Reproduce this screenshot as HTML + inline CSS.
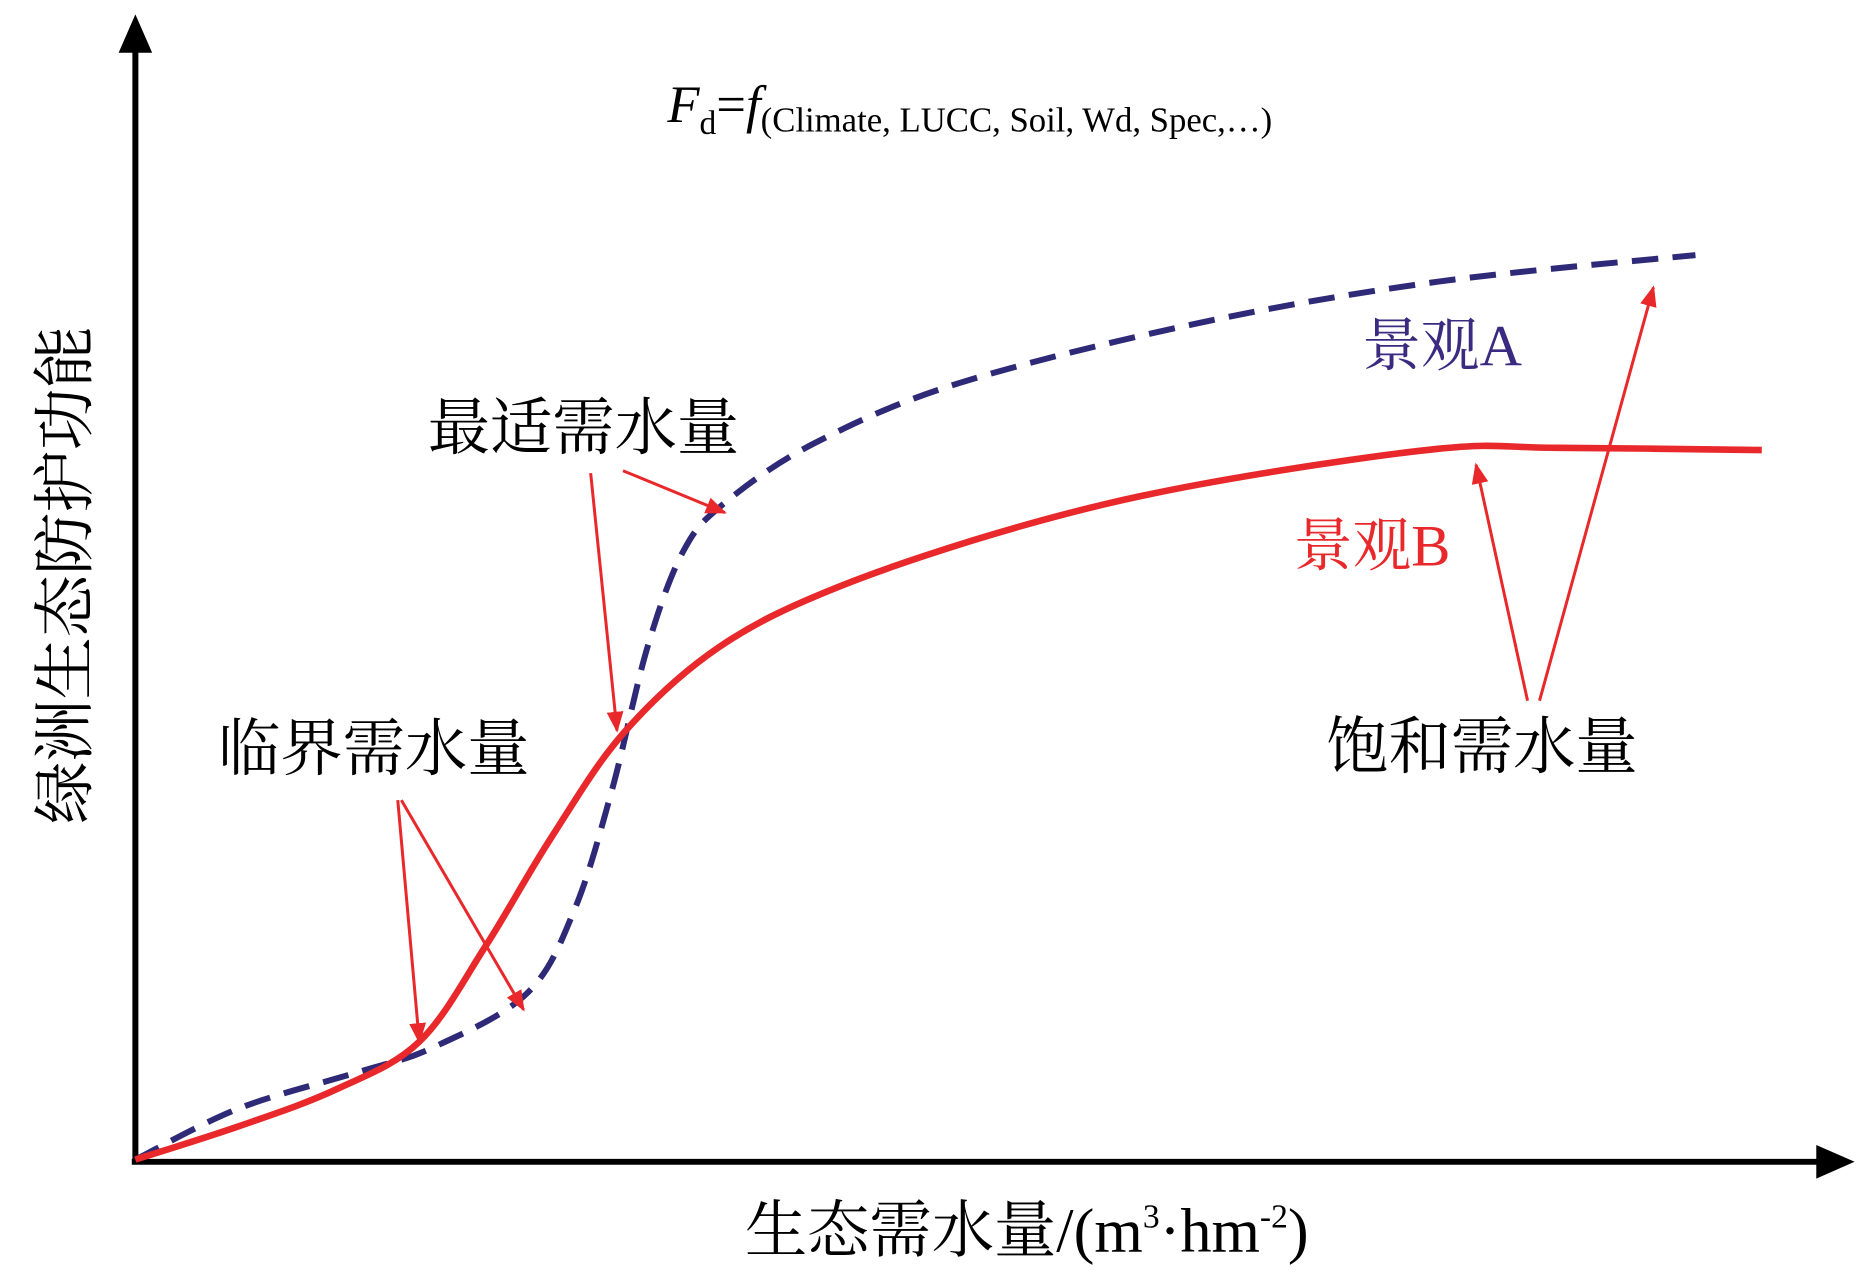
<!DOCTYPE html>
<html><head><meta charset="utf-8"><style>
html,body{margin:0;padding:0;background:#fff;}
svg{display:block;}
text{font-family:"Liberation Serif","Noto Serif CJK SC","Noto Sans CJK SC",serif;}
</style></head><body>
<svg id="chart" width="1869" height="1272" viewBox="0 0 1560 1062" preserveAspectRatio="none" xmlns="http://www.w3.org/2000/svg">
<defs>
<marker id="ah" viewBox="0 0 10 10" refX="9" refY="5" markerWidth="7" markerHeight="7" orient="auto"><path d="M0,1 L10,5 L0,9 Z" fill="#e8282a"/></marker>
</defs>
<g>
<line x1="113" y1="972" x2="113" y2="38" stroke="#000" stroke-width="5"/>
<polygon points="113,12 99,44 127,44" fill="#000"/>
<line x1="110" y1="970" x2="1522" y2="970" stroke="#000" stroke-width="5"/>
<polygon points="1548,970 1516,956 1516,984" fill="#000"/>
</g>
<text x="557" y="102" font-size="44" font-style="italic">F<tspan font-size="28" font-style="normal" dy="10">d</tspan><tspan dy="-10" font-style="normal">=</tspan><tspan font-style="italic">f</tspan><tspan font-size="29" font-style="normal" dy="8">(Climate, LUCC, Soil, Wd, Spec,…)</tspan></text>
<text transform="translate(72,480) rotate(-90)" text-anchor="middle" font-size="52">绿洲生态防护功能</text>
<text x="857" y="1045" text-anchor="middle" font-size="52">生态需水量/(m<tspan font-size="28" dy="-20">3</tspan><tspan dy="20">·hm</tspan><tspan font-size="28" dy="-20">-2</tspan><tspan dy="20">)</tspan></text>
<g id="series"></g>
<g>
<text x="357" y="375" font-size="52">最适需水量</text>
<text x="182" y="643" font-size="52">临界需水量</text>
<text x="1107" y="641" font-size="52">饱和需水量</text>
<text x="1137" y="305" font-size="49" fill="#3a2a80">景观A</text>
<text x="1080" y="472" font-size="49" fill="#e8282a">景观B</text>
<g stroke="#e8282a" stroke-width="2.5" fill="none" marker-end="url(#ah)">
<line x1="332" y1="668" x2="350" y2="870"/>
<line x1="335" y1="668" x2="437" y2="843"/>
<line x1="493" y1="395" x2="515" y2="610"/>
<line x1="520" y1="393" x2="605" y2="428"/>
<line x1="1275" y1="585" x2="1232" y2="388"/>
<line x1="1285" y1="585" x2="1380" y2="240"/>
</g>
</g>
</svg>
<script>
const seriesAX = [0, 6.1, 13.2, 17.4, 23, 25.8, 28, 30.1, 32.2, 34.6, 39.9, 48.4, 62.5, 76.5, 91.7];
const seriesAY = [0.2, 4.8, 8.1, 10.2, 15.1, 22.6, 33.3, 46.2, 54.8, 59.1, 64.5, 69.9, 75.3, 79, 81.4];
const seriesBX = [0, 6.1, 11.8, 16.7, 20.6, 24.4, 28.7, 34.3, 41.3, 51.9, 62.5, 76.5, 83.6, 95.6];
const seriesBY = [0.2, 3.2, 6.5, 10.8, 19.4, 29, 38.5, 46.2, 51.6, 57, 60.8, 64, 64.1, 63.9];
function sx(v){return 113 + v*14.2;}
function sy(v){return 970 - v*9.3;}
function pathFrom(xs, ys){
  const p = xs.map((x,i)=>[sx(x), sy(ys[i])]);
  let d = 'M'+p[0][0]+','+p[0][1];
  for(let i=0;i<p.length-1;i++){
    const p0=p[Math.max(0,i-1)], p1=p[i], p2=p[i+1], p3=p[Math.min(p.length-1,i+2)];
    const c1x=p1[0]+(p2[0]-p0[0])/6, c1y=p1[1]+(p2[1]-p0[1])/6;
    const c2x=p2[0]-(p3[0]-p1[0])/6, c2y=p2[1]-(p3[1]-p1[1])/6;
    d+=' C'+c1x+','+c1y+' '+c2x+','+c2y+' '+p2[0]+','+p2[1];
  }
  return d;
}
const g = document.getElementById('series');
const NS='http://www.w3.org/2000/svg';
const a = document.createElementNS(NS,'path');


a.setAttribute('d', pathFrom(seriesAX, seriesAY));
a.setAttribute('fill','none'); a.setAttribute('stroke','#2e2a78');
a.setAttribute('stroke-width','5'); a.setAttribute('stroke-dasharray','22 12');
g.appendChild(a);
const b = document.createElementNS(NS,'path');


b.setAttribute('d', pathFrom(seriesBX, seriesBY));
b.setAttribute('fill','none'); b.setAttribute('stroke','#e8282a');
b.setAttribute('stroke-width','5.5');
g.appendChild(b);
</script>
</body></html>
